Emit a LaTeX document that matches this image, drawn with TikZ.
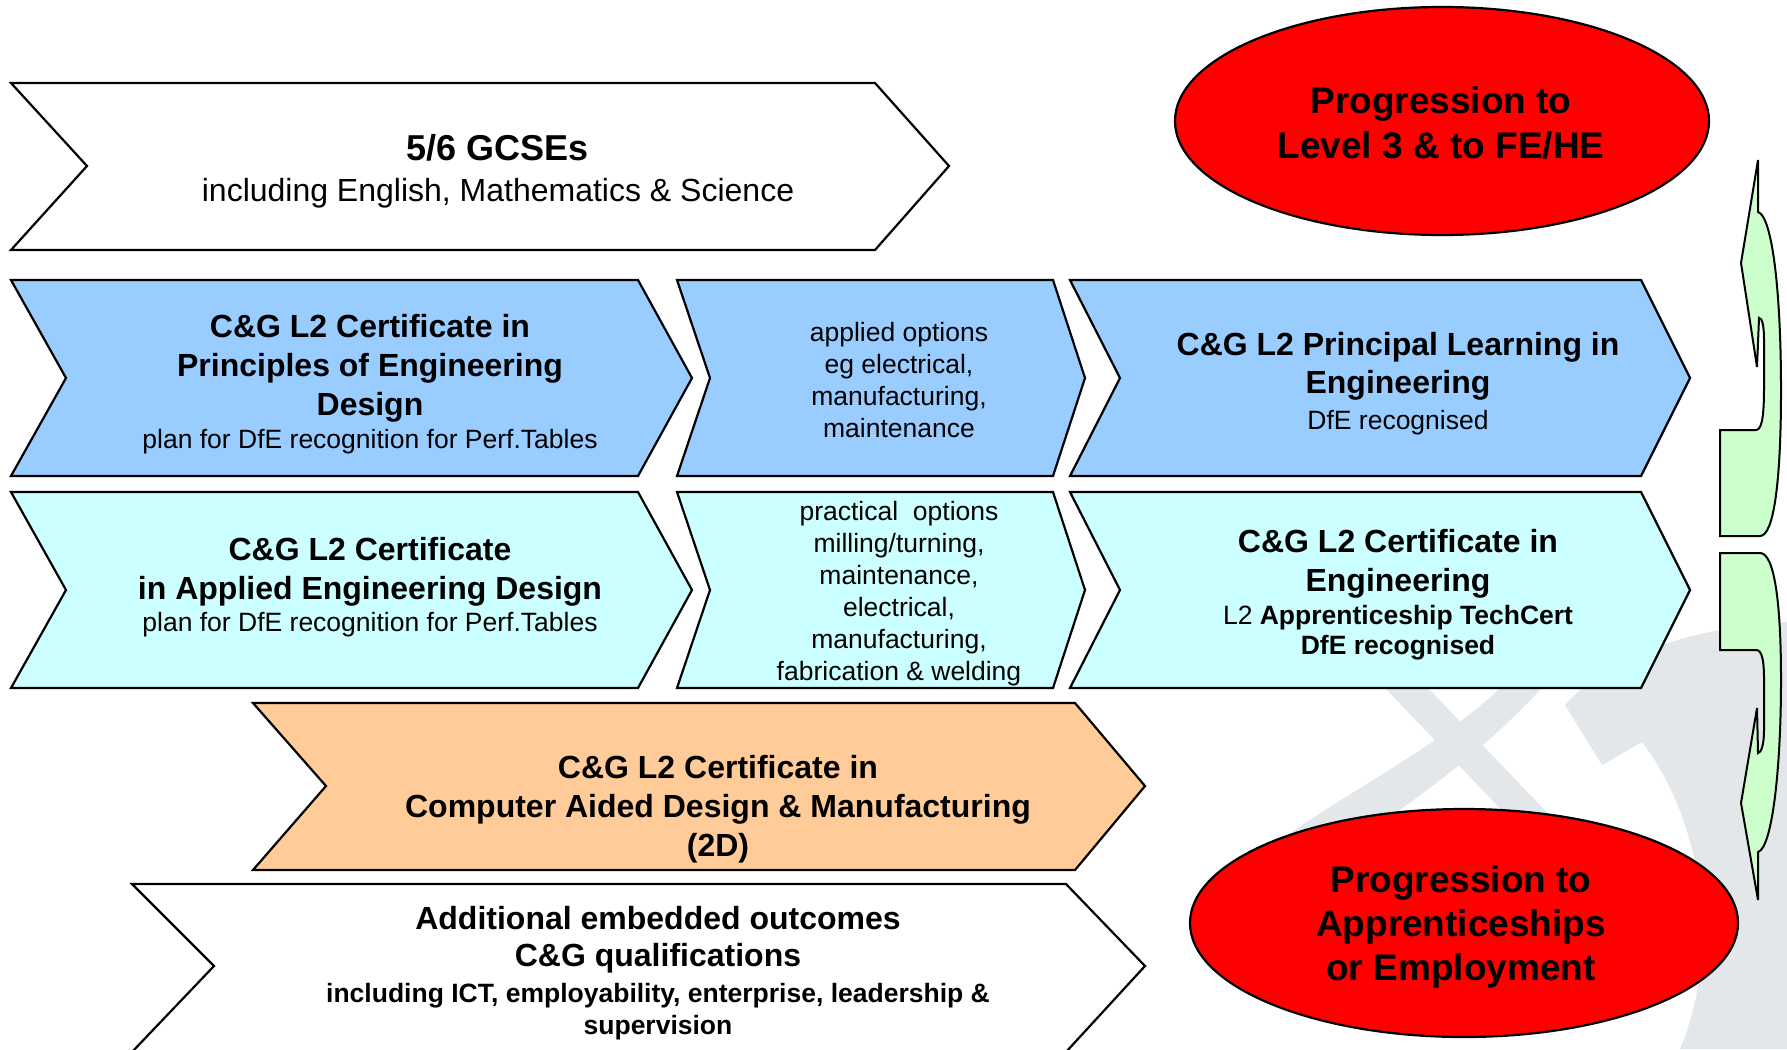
\documentclass[tikz,border=0pt]{standalone}
\usepackage{fontspec}
\setmainfont{Liberation Sans}
\usetikzlibrary{shapes.geometric}
\definecolor{optblue}{HTML}{99CCFF}
\definecolor{optcyan}{HTML}{CCFFFF}
\definecolor{cadorange}{HTML}{FFCC99}
\definecolor{loopgreen}{HTML}{CCFFCC}
\definecolor{wmgray}{HTML}{E4E7EA}
\tikzstyle{chev} = [draw, line width=1.1pt, line join=miter]
\newcommand{\cgtitle}{\fontsize{16}{19.4}\selectfont\bfseries}
\newcommand{\cgsub}{\fontsize{13.25}{16}\selectfont\mdseries}

\begin{document}
\begin{tikzpicture}[x=0.5pt, y=-0.5pt,
	txt/.style={align=center, inner sep=0pt, font=\cgtitle},
	txtsub/.style={align=center, inner sep=0pt, font=\cgsub},
	prog/.style={ellipse, draw, line width=1.1pt, fill=red, inner sep=0pt, minimum height=114pt},
	progtxt/.style={align=center, inner sep=0pt, font=\fontsize{18.5}{22.2}\selectfont\bfseries}]
	\useasboundingbox (0,0) rectangle (1787,1049);
	\clip (0,0) rectangle (1787,1049);
	\fill[white] (0,0) rectangle (1787,1049);

	% faint logo in the background
	\fill[wmgray] (1385,688) -- (1428,688) -- (1578,845) -- (1535,845) -- cycle;
	\fill[wmgray] (1500,688) -- (1542,688) .. controls (1470,765) and (1400,810) .. (1330,858) -- (1292,832) .. controls (1360,785) and (1440,745) .. cycle;
	\fill[wmgray] (1565,705) .. controls (1610,655) and (1690,628) .. (1787,622) -- (1787,1049) -- (1680,1049) .. controls (1722,950) and (1702,820) .. (1642,742) -- (1602,765) -- cycle;

	% GCSE entry
	\draw[chev, fill=white] (11,83) -- (875,83) -- (949,166) -- (875,250) -- (11,250) -- (87,166) -- cycle;
	\node[txt, font=\fontsize{16}{20.5}\selectfont] (gcse) at (498,171.5) {{\fontsize{18}{20.5}\selectfont\bfseries 5/6 GCSEs}\\ including English, Mathematics \& Science};

	% row 1: principles / applied options / principal learning
	\draw[chev, fill=optblue] (11,280) -- (638,280) -- (692,378) -- (638,476) -- (11,476) -- (66,378) -- cycle;
	\draw[chev, fill=optblue] (677,280) -- (1053,280) -- (1085,378) -- (1053,476) -- (677,476) -- (710,378) -- cycle;
	\draw[chev, fill=optblue] (1070,280) -- (1641,280) -- (1690,378) -- (1641,476) -- (1070,476) -- (1120,378) -- cycle;
	\node[txt] (princ) at (370,384) {C\&G L2 Certificate in\\ Principles of Engineering\\ Design\\[-2.8pt] {\cgsub plan for DfE recognition for Perf.Tables}};
	\node[txtsub] (applopt) at (899,380.5) {applied options\\ eg electrical,\\ manufacturing,\\ maintenance};
	\node[txt] (plearn) at (1398,383.3) {C\&G L2 Principal Learning in\\ Engineering\\[-1.8pt] {\cgsub DfE recognised}};

	% row 2: applied design / practical options / certificate
	\draw[chev, fill=optcyan] (11,492) -- (638,492) -- (692,590) -- (638,688) -- (11,688) -- (66,590) -- cycle;
	\draw[chev, fill=optcyan] (677,492) -- (1053,492) -- (1085,590) -- (1053,688) -- (677,688) -- (710,590) -- cycle;
	\draw[chev, fill=optcyan] (1070,492) -- (1641,492) -- (1690,590) -- (1641,688) -- (1070,688) -- (1120,590) -- cycle;
	\node[txt] (appdes) at (370,587) {C\&G L2 Certificate\\ in Applied Engineering Design\\[-3.3pt] {\cgsub plan for DfE recognition for Perf.Tables}};
	\node[txtsub] (pracopt) at (899,593.4) {practical\ \ options\\ milling/turning,\\ maintenance,\\ electrical,\\ manufacturing,\\ fabrication \& welding};
	\node[txt] (certeng) at (1398,595) {C\&G L2 Certificate in\\ Engineering\\[-3pt] {\cgsub L2 \bfseries Apprenticeship TechCert}\\[-4pt] {\cgsub\bfseries DfE recognised}};

	% CAD/CAM
	\draw[chev, fill=cadorange] (253,703) -- (1075,703) -- (1145,786) -- (1075,870) -- (253,870) -- (326,786) -- cycle;
	\node[txt] (cadcam) at (718,809.4) {C\&G L2 Certificate in\\ Computer Aided Design \& Manufacturing\\ (2D)};

	% embedded outcomes
	\draw[chev, fill=white] (132,884) -- (1066,884) -- (1145,966) -- (1066,1052) -- (132,1052) -- (214,966) -- cycle;
	\node[txt] (embed) at (658,973) {Additional embedded outcomes\\[-0.6pt] C\&G qualifications\\[-1.7pt] {\cgsub\bfseries including ICT, employability, enterprise, leadership \&}\\[-3.4pt] {\cgsub\bfseries supervision}};

	% progression
	\node[prog, minimum width=267pt] (fehe) at (1442,121) {};
	\node[progtxt] (fehetxt) at (1441,123) {Progression to\\ Level 3 \& to FE/HE};
	\node[prog, minimum width=274pt] (appemp) at (1464,923) {};
	\node[progtxt] (appemptxt) at (1461,927) {Progression to\\ Apprenticeships\\ or Employment};

	% curved arrows on the right
	\draw[fill=loopgreen, line width=1pt] (1758,160) -- (1758,212) .. controls (1772,216) and (1781,290) .. (1781,390) .. controls (1781,480) and (1774,536) .. (1760,536) -- (1720,536) -- (1720,430) -- (1756,430) .. controls (1763,430) and (1764,410) .. (1764,385) -- (1764,340) .. controls (1764,325) and (1762,318) .. (1759,318) -- (1757,367) -- (1741,263) -- cycle;
	\draw[fill=loopgreen, line width=1pt] (1720,553) -- (1760,553) .. controls (1774,553) and (1781,600) .. (1781,680) .. controls (1781,770) and (1772,848) .. (1758,852) -- (1758,900) -- (1741,803) -- (1757,708) -- (1758,753) .. controls (1761,753) and (1764,745) .. (1764,730) -- (1764,680) .. controls (1764,660) and (1762,650) .. (1756,650) -- (1720,650) -- cycle;
\end{tikzpicture}
\end{document}
